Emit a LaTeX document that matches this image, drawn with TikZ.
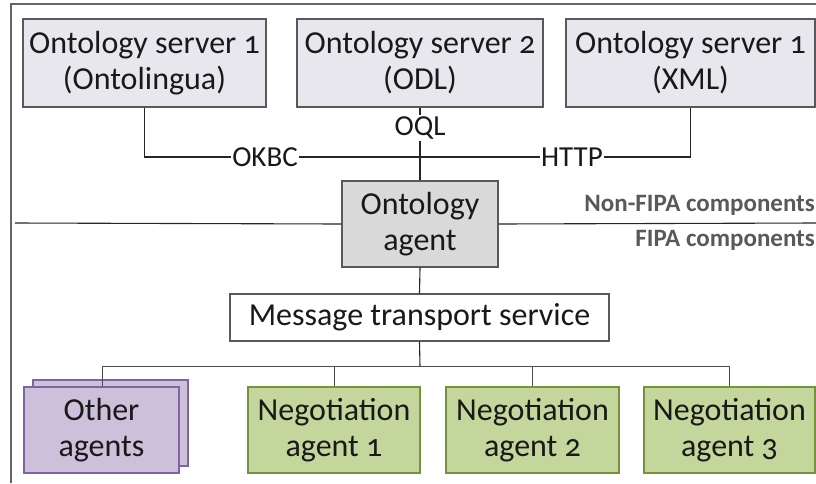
\documentclass[tikz,border=0pt]{standalone}
\usepackage{fontspec}
\setmainfont[Numbers=OldStyle]{Carlito}
\definecolor{serverfill}{RGB}{233,231,238}
\definecolor{agentfill}{RGB}{217,217,217}
\definecolor{negofill}{RGB}{195,214,155}
\definecolor{negodraw}{RGB}{118,146,60}
\definecolor{otherfill}{RGB}{204,192,218}
\definecolor{otherdraw}{RGB}{128,100,162}
\begin{document}
\begin{tikzpicture}[x=1pt,y=-1pt,
  txt/.style={font=\fontsize{32}{36}\selectfont, text=black!90, align=center},
  box/.style={draw=black!65, line width=1.2pt, inner sep=0pt, txt},
  server/.style={box, fill=serverfill},
  agentbox/.style={box, fill=agentfill},
  mts/.style={box, fill=white},
  nego/.style={box, draw=negodraw, fill=negofill},
  other/.style={box, draw=otherdraw, fill=otherfill},
  proto/.style={font=\fontsize{29}{32}\selectfont, text=black!90, inner sep=1pt},
  zone/.style={font=\bfseries\fontsize{25}{28}\selectfont, text=black!65, anchor=east, inner sep=0pt},
  wire/.style={draw=black!85, line width=1.1pt},
  thin/.style={draw=black!70, line width=0.8pt}]
\useasboundingbox (0,0) rectangle (816,483);
\fill[white] (0,0) rectangle (816,483);

% outer frame (open on the right and bottom)
\draw[black!60, line width=1.6pt] (11,483) -- (11,4) -- (816,4);

% ontology servers
\node[server, minimum width=243pt, minimum height=88pt] (s1) at (144.5,63) {Ontology server 1\\(Ontolingua)};
\node[server, minimum width=246pt, minimum height=88pt] (s2) at (420,63) {Ontology server 2\\(ODL)};
\node[server, minimum width=249pt, minimum height=88pt] (s3) at (690.5,63) {Ontology server 1\\(XML)};

% ontology agent
\node[agentbox, minimum width=156pt, minimum height=86pt] (oa) at (420,224) {Ontology\\agent};

% protocol labels
\node[proto] (okbc) at (265,157) {OKBC};
\node[proto] (oql) at (420,128) {OQL};
\node[proto] (http) at (572,157) {HTTP};
\coordinate (hub) at (420,157);

\draw[wire] (s1.south) |- (okbc.west);
\draw[wire] (okbc.east) -- (hub);
\draw[wire] (s3.south) |- (http.east);
\draw[wire] (http.west) -- (hub);
\draw[wire] (s2.south) -- (oql.north);
\draw[wire] (oql.south) -- (oa.north);

% boundary between FIPA and non-FIPA parts
\coordinate (bl) at (15,223);
\coordinate (br) at (816,223);
\draw[wire] (bl) -- (oa.west);
\draw[wire] (oa.east) -- (br);
\node[zone] (nonfipa) at (815,205) {Non-FIPA components};
\node[zone] (fipa) at (815,240) {FIPA components};

% message transport service
\node[mts, minimum width=379pt, minimum height=47pt] (mts) at (419.5,317.5) {Message transport service};
\draw[wire] (oa.south) -- (mts.north);

% agents
\node[other, minimum width=155pt, minimum height=86pt] (oback) at (110.5,423) {};
\node[other, minimum width=155pt, minimum height=86pt] (oth) at (101.5,430) {Other\\agents};
\node[nego, minimum width=172pt, minimum height=86pt] (n1) at (334,430) {Negotiation\\agent 1};
\node[nego, minimum width=173pt, minimum height=86pt] (n2) at (532.5,430) {Negotiation\\agent 2};
\node[nego, minimum width=171pt, minimum height=86pt] (n3) at (729.5,430) {Negotiation\\agent 3};

% bus below the transport service
\coordinate (bus) at (420,366);
\draw[wire] (mts.south) -- (bus);
\draw[thin] (oth.north -| 102,0) |- (bus);
\draw[thin] (bus) -| (n3.north);
\draw[thin] (n1.north) -- (n1.north |- bus);
\draw[thin] (n2.north) -- (n2.north |- bus);
\end{tikzpicture}
\end{document}
